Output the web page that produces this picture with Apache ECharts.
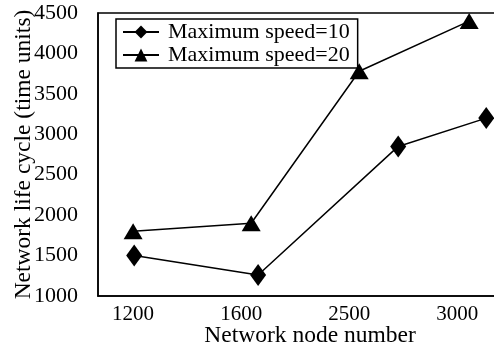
<!DOCTYPE html>
<html>
<head>
<meta charset="utf-8">
<script src="https://cdn.jsdelivr.net/npm/echarts@6/dist/echarts.min.js"></script>
<style>html,body{margin:0;padding:0;background:#fff}#c{width:494px;height:346px}</style>
</head>
<body>
<div id="c"></div>
<script>
var categories = ['1200', '1600', '2500', '3000'];
var tickPositions = [0, 1, 2, 3];
var speed10X = [0.01, 1.157, 2.454, 3.269];
var speed10Y = [1500, 1260, 2850, 3200];
var speed20X = [0, 1.093, 2.093, 3.111];
var speed20Y = [1800, 1900, 3780, 4400];
var yTicks = [1000, 1500, 2000, 2500, 3000, 3500, 4000, 4500];

function pairs(xs, ys) { return xs.map(function (x, i) { return [x, ys[i]]; }); }

var FONT = "'Liberation Serif', 'Times New Roman', serif";
var chart = echarts.init(document.getElementById('c'), null, { renderer: 'canvas' });
chart.setOption({
  animation: false,
  backgroundColor: '#fff',
  textStyle: { fontFamily: FONT, color: '#000' },
  grid: { left: 98, top: 13, height: 283, width: 424, outerBoundsMode: 'none', containLabel: false,
          show: true, borderColor: '#000', borderWidth: 1.5, backgroundColor: 'transparent' },
  legend: {
    orient: 'vertical', left: 116, top: 19,
    padding: [2, 8, 2, 6],
    itemWidth: 36, itemHeight: 16, itemGap: 1,
    borderColor: '#000', borderWidth: 1.5,
    textStyle: { fontFamily: FONT, fontSize: 22, color: '#000', padding: [0, 0, 0, 4] },
    data: ['Maximum speed=10', 'Maximum speed=20']
  },
  xAxis: {
    type: 'value', min: -0.325, max: 3.6,
    name: 'Network node number', nameLocation: 'middle', nameGap: 28, nameMoveOverlap: false,
    nameTextStyle: { fontFamily: FONT, fontSize: 23.5, color: '#000' },
    axisLine: { show: true, onZero: false, lineStyle: { color: '#000', width: 1.5 } },
    axisTick: { show: false },
    splitLine: { show: false },
    axisLabel: {
      customValues: tickPositions,
      formatter: function (v) { var i = Math.round(v); return Math.abs(v - i) < 1e-6 && categories[i] ? categories[i] : ''; },
      fontFamily: FONT, fontSize: 21, color: '#000', margin: 8
    }
  },
  yAxis: {
    type: 'value', min: 1000, max: 4500, interval: 500,
    name: 'Network life cycle (time units)', nameLocation: 'middle', nameGap: 62, nameMoveOverlap: false,
    nameTextStyle: { fontFamily: FONT, fontSize: 23.5, color: '#000' },
    axisLine: { show: true, onZero: false, lineStyle: { color: '#000', width: 1.5 } },
    axisTick: { show: false },
    splitLine: { show: false },
    axisLabel: { customValues: yTicks, formatter: function (v) { return String(v); },
                 fontFamily: FONT, fontSize: 22, color: '#000', margin: 20 }
  },
  series: [
    {
      name: 'Maximum speed=10', type: 'line', data: pairs(speed10X, speed10Y),
      symbol: 'diamond', symbolSize: [16, 22],
      lineStyle: { color: '#000', width: 1.5 }, itemStyle: { color: '#000' }
    },
    {
      name: 'Maximum speed=20', type: 'line', data: pairs(speed20X, speed20Y),
      symbol: 'triangle', symbolSize: [19, 16],
      lineStyle: { color: '#000', width: 1.5 }, itemStyle: { color: '#000' }
    }
  ]
});
</script>
</body>
</html>
